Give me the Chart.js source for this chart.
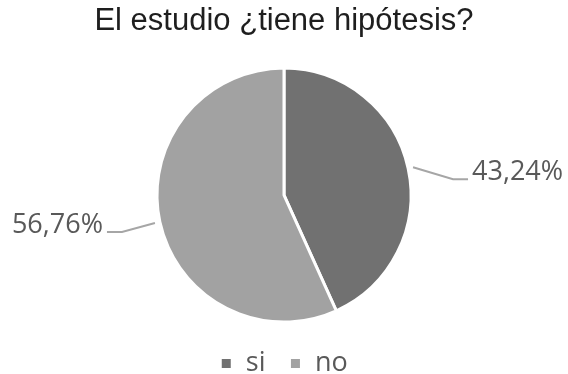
<!DOCTYPE html>
<html>
<head>
<meta charset="utf-8">
<script src="https://cdn.jsdelivr.net/npm/chart.js@4"></script>
<style>
  html, body { margin: 0; padding: 0; background: #fff; }
  #wrap { width: 568px; height: 374px; }
</style>
</head>
<body>
<div id="wrap"><canvas id="hipotesis"></canvas></div>
<script>
const categories = ['si', 'no'];
const percentages = [43.24, 56.76];
const sliceColors = ['#717171', '#a2a2a2'];

// elbow offsets of the leader lines, relative to where they leave the pie
const leaderBend = [[40, 12], [-33, 9]];

const leaderLabels = {
  id: 'leaderLabels',
  afterDatasetsDraw(chart) {
    const ctx = chart.ctx;
    const meta = chart.getDatasetMeta(0);
    ctx.save();
    meta.data.forEach((arc, i) => {
      const mid = (arc.startAngle + arc.endAngle) / 2;
      const r = arc.outerRadius + 5;
      const x0 = arc.x + Math.cos(mid) * r;
      const y0 = arc.y + Math.sin(mid) * r;
      const x1 = x0 + leaderBend[i][0];
      const y1 = y0 + leaderBend[i][1];
      const right = Math.cos(mid) >= 0;
      const x2 = x1 + (right ? 15 : -15);

      ctx.beginPath();
      ctx.moveTo(x0, y0);
      ctx.lineTo(x1, y1);
      ctx.lineTo(x2, y1);
      ctx.strokeStyle = '#a6a6a6';
      ctx.lineWidth = 2;
      ctx.stroke();

      ctx.font = '27px "Open Sans"';
      ctx.fillStyle = '#595959';
      ctx.textBaseline = 'alphabetic';
      ctx.textAlign = right ? 'left' : 'right';
      const txt = percentages[i].toFixed(2).replace('.', ',') + '%';
      ctx.fillText(txt, x2 + (right ? 4 : -4), y1 + 1);
    });
    ctx.restore();
  }
};

new Chart(document.getElementById('hipotesis'), {
  type: 'pie',
  data: {
    labels: categories,
    datasets: [{
      data: percentages,
      backgroundColor: sliceColors,
      borderColor: '#ffffff',
      borderWidth: 3
    }]
  },
  options: {
    responsive: true,
    maintainAspectRatio: false,
    animation: false,
    radius: 127,
    layout: { padding: { top: 0, bottom: -13 } },
    plugins: {
      title: {
        display: true,
        text: 'El estudio ¿tiene hipótesis?',
        color: '#1e1e1e',
        font: { family: '"Liberation Sans", Arial, sans-serif', size: 31, weight: 'normal' },
        padding: { top: 3, bottom: 24 }
      },
      legend: {
        position: 'bottom',
        labels: {
          boxWidth: 12,
          boxHeight: 12,
          padding: 24,
          color: '#595959',
          font: { family: '"Open Sans"', size: 27 }
        }
      },
      tooltip: { enabled: false }
    }
  },
  plugins: [leaderLabels]
});
</script>
</body>
</html>
